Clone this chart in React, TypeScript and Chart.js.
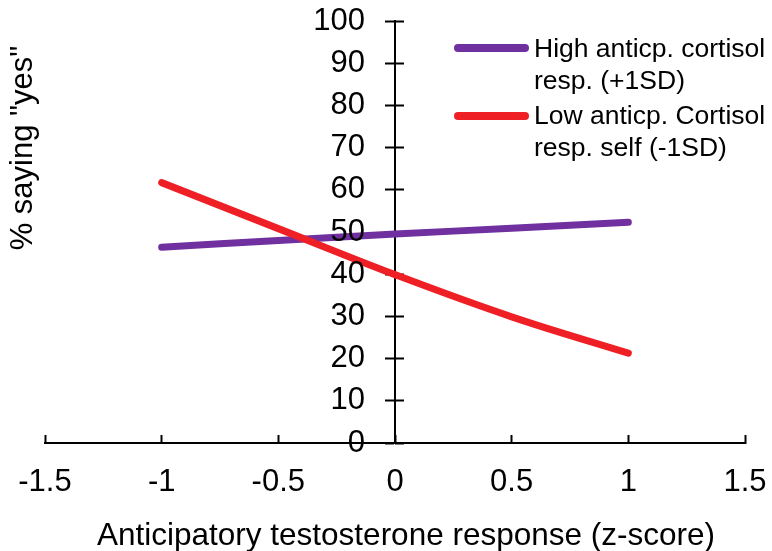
import React, { useEffect, useRef } from 'react';
import { Chart, registerables } from 'chart.js';

Chart.register(...registerables);

const xValues = [-1, -0.5, 0, 0.5, 1];
const highCortisol = [46.4, 48.0, 49.5, 50.9, 52.3];
const lowCortisol = [61.7, 50.8, 39.9, 29.9, 21.3];
const seriesLabels = [
  ['High anticp. cortisol', 'resp. (+1SD)'],
  ['Low anticp. Cortisol', 'resp. self (-1SD)'],
];
const seriesColors = ['#7030A0', '#EE2026'];
const xTickValues = [-1.5, -1, -0.5, 0, 0.5, 1, 1.5];
const yTickValues = [0, 10, 20, 30, 40, 50, 60, 70, 80, 90, 100];
const xTitle = 'Anticipatory testosterone response (z-score)';
const yTitle = '% saying "yes"';

const FONT = '"Liberation Sans", Arial, sans-serif';
const TICK_SIZE = 31;

const zeroPad = (s: any) => {
  s.paddingLeft = 0;
  s.paddingRight = 0;
  s.paddingTop = 0;
  s.paddingBottom = 0;
};

const decorPlugin = {
  id: 'decor',
  afterDraw(chart: any) {
    const ctx = chart.ctx;
    ctx.save();
    ctx.fillStyle = '#000';
    // y tick labels, placed from the y scale
    const ys = chart.scales.y;
    const axisX = chart.scales.x.getPixelForValue(0);
    ctx.font = `${TICK_SIZE}px ${FONT}`;
    ctx.textAlign = 'right';
    ctx.textBaseline = 'middle';
    ys.ticks.forEach((t: any) => {
      ctx.fillText(String(t.value), axisX - 30, ys.getPixelForValue(t.value));
    });
    // x title
    ctx.font = `31.5px ${FONT}`;
    ctx.textAlign = 'center';
    ctx.textBaseline = 'alphabetic';
    ctx.fillText(xTitle, 406, 545);
    // y title
    ctx.font = `31px ${FONT}`;
    ctx.save();
    ctx.translate(32, 148);
    ctx.rotate(-Math.PI / 2);
    ctx.fillText(yTitle, 0, 0);
    ctx.restore();
    // legend
    const lineY = [48, 116];
    const baseY = [57, 124];
    chart.data.datasets.forEach((ds: any, i: number) => {
      ctx.strokeStyle = ds.borderColor;
      ctx.lineWidth = 8;
      ctx.lineCap = 'round';
      ctx.beginPath();
      ctx.moveTo(458, lineY[i]);
      ctx.lineTo(525, lineY[i]);
      ctx.stroke();
      ctx.fillStyle = '#000';
      ctx.font = `26.5px ${FONT}`;
      ctx.textAlign = 'left';
      ctx.textBaseline = 'alphabetic';
      (seriesLabels[i] as string[]).forEach((t, j) => {
        ctx.fillText(t, 534, baseY[i] + j * 32);
      });
    });
    ctx.restore();
  },
};

export default function App() {
  const ref = useRef<HTMLCanvasElement>(null);
  useEffect(() => {
    document.body.style.margin = '0';
    const canvas = ref.current!;
    const chart = new Chart(canvas, {
      type: 'line',
      data: {
        datasets: [
          {
            label: seriesLabels[0].join(' '),
            data: xValues.map((x, i) => ({ x, y: highCortisol[i] })),
            borderColor: seriesColors[0],
            borderWidth: 7,
            borderCapStyle: 'round',
            pointRadius: 0,
            tension: 0.4,
            fill: false,
            order: 1,
          },
          {
            label: seriesLabels[1].join(' '),
            data: xValues.map((x, i) => ({ x, y: lowCortisol[i] })),
            borderColor: seriesColors[1],
            borderWidth: 7,
            borderCapStyle: 'round',
            pointRadius: 0,
            tension: 0.4,
            fill: false,
            order: 0,
          },
        ],
      },
      options: {
        responsive: false,
        animation: false,
        layout: { padding: { left: 45, right: 27, top: 21, bottom: 108 } },
        plugins: { legend: { display: false }, tooltip: { enabled: false } },
        scales: {
          x: {
            type: 'linear',
            min: -1.5,
            max: 1.5,
            position: { y: 0 } as any,
            afterBuildTicks: (s: any) => {
              s.ticks = xTickValues.map((v) => ({ value: v }));
            },
            afterFit: zeroPad,
            grid: { drawOnChartArea: false, drawTicks: true, tickLength: -9, tickWidth: 2, tickColor: '#000' },
            border: { display: true, color: '#000', width: 2 },
            ticks: {
              color: '#000',
              font: { family: FONT, size: TICK_SIZE },
              padding: 30,
              maxRotation: 0,
              autoSkip: false,
              callback: (v: any) => String(v),
            },
          },
          y: {
            type: 'linear',
            min: 0,
            max: 100,
            position: { x: 0 } as any,
            afterBuildTicks: (s: any) => {
              s.ticks = yTickValues.map((v) => ({ value: v }));
            },
            afterFit: zeroPad,
            grid: { drawOnChartArea: false, drawTicks: true, tickLength: 9, tickWidth: 2, tickColor: '#000' },
            border: { display: true, color: '#000', width: 2 },
            ticks: { display: false },
          },
          y2: {
            type: 'linear',
            axis: 'y',
            min: 0,
            max: 100,
            position: { x: 0 } as any,
            afterBuildTicks: (s: any) => {
              s.ticks = yTickValues.map((v) => ({ value: v }));
            },
            afterFit: zeroPad,
            grid: { drawOnChartArea: false, drawTicks: true, tickLength: -9, tickWidth: 2, tickColor: '#000' },
            border: { display: false },
            ticks: { display: false },
          },
        },
      },
      plugins: [decorPlugin],
    } as any);
    return () => chart.destroy();
  }, []);
  return (
    <div style={{ position: 'fixed', left: 0, top: 0, width: 772, height: 551, background: '#fff' }}>
      <canvas ref={ref} width={772} height={551} style={{ display: 'block' }} />
    </div>
  );
}
